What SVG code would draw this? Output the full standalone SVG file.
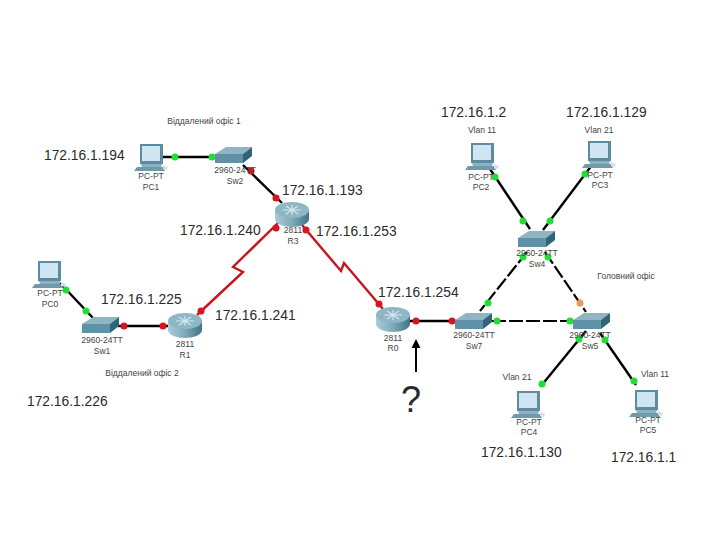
<svg xmlns="http://www.w3.org/2000/svg" width="720" height="540" viewBox="0 0 720 540">
<style>
text{font-family:"Liberation Sans",Arial,sans-serif;fill:#2a2a2a}
.ip{font-size:13.800px}
.s{font-size:8.500px;text-anchor:middle;fill:#444}
.l{stroke:#000;stroke-width:2.400;fill:none}
.d{stroke:#000;stroke-width:2.200;fill:none;stroke-dasharray:14 3}
.r{stroke:#c8141c;stroke-width:2.400;fill:none}
.g{fill:#22dd33}.e{fill:#d8141c}.o{fill:#e8995a}
</style>
<defs>
<linearGradient id="rg" x1="0" y1="0" x2="1" y2="0"><stop offset="0" stop-color="#a9cdd8"/><stop offset=".5" stop-color="#7fa9b8"/><stop offset="1" stop-color="#3f7488"/></linearGradient>
<g id="pc">
<path d="M-10-12 13-12 13 8-10 8Z" fill="#5d8ba0"/>
<path d="M-8-10 10-10 10 5-8 5Z" fill="#cfe6f2"/>
<path d="M-9 8 12 8 11 11-8 11Z" fill="#8fb0be"/>
<path d="M-13 11 13 11 15 15-16 15Z" fill="#6f9aab"/>
<path d="M13 9 18 11 17 14 13 13Z" fill="#d8dfe8"/>
</g>
<g id="sw">
<path d="M-18-1-7-8 19-8 10-1Z" fill="#8fb4c2"/>
<path d="M-18-1 10-1 10 8-18 8Z" fill="#5f92a8"/>
<path d="M10-1 19-8 19 1 10 8Z" fill="#2f6578"/>
</g>
<g id="rt">
<path d="M-17-3V6C-17 11-8 14 0 14S17 11 17 6V-3Z" fill="url(#rg)"/>
<ellipse cx="0" cy="-3" rx="17" ry="8" fill="#8fb6c5"/>
<path d="M-9-3H9M0-8V2M-6-7 6 1M-6 1 6-7" stroke="#d5e6ec" stroke-width="1.200"/>
</g>
</defs>

<g id="connectors">
<path class="l" d="M163 157H222"/>
<path class="l" d="M243 165 282 203"/>
<path class="r" d="M280 221 233 267 243 272 197 315"/>
<path class="r" d="M302 225 341 271 344 263 383 309"/>
<path class="l" d="M60 283 93 318"/>
<path class="l" d="M118 326H168"/>
<path class="l" d="M410 321H456"/>
<path class="l" d="M488 166 530 229"/>
<path class="l" d="M592 165 543 230"/>
<path class="d" d="M527 252 480 311"/>
<path class="d" d="M545 252 586 312"/>
<path class="d" d="M492 321H573"/>
<path class="l" d="M586 331 541 386"/>
<path class="l" d="M600 333 636 385"/>
<path d="M416 372V346" stroke="#000" stroke-width="2"/>
<path d="M416 339 411.500 348H420.500Z" fill="#000"/>
</g>

<g id="links">
<circle class="g" cx="175" cy="157" r="3.500"/><circle class="g" cx="212" cy="157" r="3.500"/>
<circle class="e" cx="251" cy="171" r="3.500"/><circle class="e" cx="276" cy="198" r="3.500"/>
<circle class="e" cx="276" cy="228" r="3.500"/><circle class="e" cx="306" cy="230" r="3.500"/>
<circle class="e" cx="201" cy="311" r="3.500"/><circle class="e" cx="379" cy="304" r="3.500"/>
<circle class="g" cx="66" cy="290" r="3.500"/><circle class="g" cx="86" cy="311" r="3.500"/>
<circle class="e" cx="124" cy="326" r="3.500"/><circle class="e" cx="163" cy="326" r="3.500"/>
<circle class="e" cx="416" cy="321" r="3.500"/><circle class="e" cx="452" cy="321" r="3.500"/>
<circle class="g" cx="495" cy="177" r="3.500"/><circle class="g" cx="523" cy="221" r="3.500"/>
<circle class="g" cx="585" cy="174" r="3.500"/><circle class="g" cx="550" cy="221" r="3.500"/>
<circle class="g" cx="523" cy="257" r="3.500"/><circle class="g" cx="548" cy="257" r="3.500"/>
<circle class="g" cx="488" cy="303" r="3.500"/><circle class="o" cx="580" cy="303" r="3.500"/>
<circle class="g" cx="497" cy="321" r="3.500"/><circle class="g" cx="570" cy="321" r="3.500"/>
<circle class="g" cx="579" cy="339" r="3.500"/><circle class="g" cx="605" cy="340" r="3.500"/>
<circle class="g" cx="542" cy="384" r="3.500"/><circle class="g" cx="634" cy="381" r="3.500"/>
</g>

<g id="PC1"><use href="#pc" x="150" y="156"/><text class="s" x="151" y="179">PC-PT</text><text class="s" x="151" y="190">PC1</text></g>
<g id="Sw2"><use href="#sw" x="233" y="155"/><text class="s" x="235" y="173">2960-24TT</text><text class="s" x="235" y="184">Sw2</text></g>
<g id="R3"><use href="#rt" x="292" y="213"/><text class="s" x="293" y="233">2811</text><text class="s" x="293" y="244">R3</text></g>
<g id="PC0"><use href="#pc" x="48" y="273"/><text class="s" x="50" y="296">PC-PT</text><text class="s" x="50" y="307">PC0</text></g>
<g id="Sw1"><use href="#sw" x="100" y="325"/><text class="s" x="102" y="343">2960-24TT</text><text class="s" x="102" y="354">Sw1</text></g>
<g id="R1"><use href="#rt" x="185" y="324"/><text class="s" x="185" y="347">2811</text><text class="s" x="185" y="358">R1</text></g>
<g id="R0"><use href="#rt" x="393" y="318"/><text class="s" x="393" y="341">2811</text><text class="s" x="393" y="351">R0</text></g>
<g id="Sw7"><use href="#sw" x="473" y="321"/><text class="s" x="474" y="338">2960-24TT</text><text class="s" x="474" y="349">Sw7</text></g>
<g id="Sw5"><use href="#sw" x="591" y="321"/><text class="s" x="590" y="338">2960-24TT</text><text class="s" x="590" y="349">Sw5</text></g>
<g id="Sw4"><use href="#sw" x="536" y="239"/><text class="s" x="537" y="256">2960-24TT</text><text class="s" x="537" y="267">Sw4</text></g>
<g id="PC2"><use href="#pc" x="481" y="155"/><text class="s" x="481" y="180">PC-PT</text><text class="s" x="481" y="190">PC2</text></g>
<g id="PC3"><use href="#pc" x="598" y="153"/><text class="s" x="600" y="178">PC-PT</text><text class="s" x="600" y="188">PC3</text></g>
<g id="PC4"><use href="#pc" x="527" y="403"/><text class="s" x="529" y="425">PC-PT</text><text class="s" x="529" y="435">PC4</text></g>
<g id="PC5"><use href="#pc" x="645" y="402"/><text class="s" x="648" y="423">PC-PT</text><text class="s" x="648" y="433">PC5</text></g>

<g id="labels">
<text class="ip" x="441" y="117">172.16.1.2</text>
<text class="ip" x="566" y="117">172.16.1.129</text>
<text class="ip" x="44" y="160">172.16.1.194</text>
<text class="ip" x="282" y="195">172.16.1.193</text>
<text class="ip" x="180" y="235">172.16.1.240</text>
<text class="ip" x="316" y="236">172.16.1.253</text>
<text class="ip" x="101" y="304">172.16.1.225</text>
<text class="ip" x="215" y="320">172.16.1.241</text>
<text class="ip" x="378" y="297">172.16.1.254</text>
<text class="ip" x="27" y="406">172.16.1.226</text>
<text class="ip" x="481" y="457">172.16.1.130</text>
<text class="ip" x="611" y="462">172.16.1.1</text>
<text x="401" y="412" style="font-size:36px">?</text>
<text class="s" x="204" y="124">Віддалений офіс 1</text>
<text class="s" x="626" y="279">Головний офіс</text>
<text class="s" x="142" y="376">Віддалений офіс 2</text>
<text class="s" x="482" y="133">Vlan 11</text>
<text class="s" x="599" y="133">Vlan 21</text>
<text class="s" x="517" y="380">Vlan 21</text>
<text class="s" x="655" y="377">Vlan 11</text>
</g>
</svg>
